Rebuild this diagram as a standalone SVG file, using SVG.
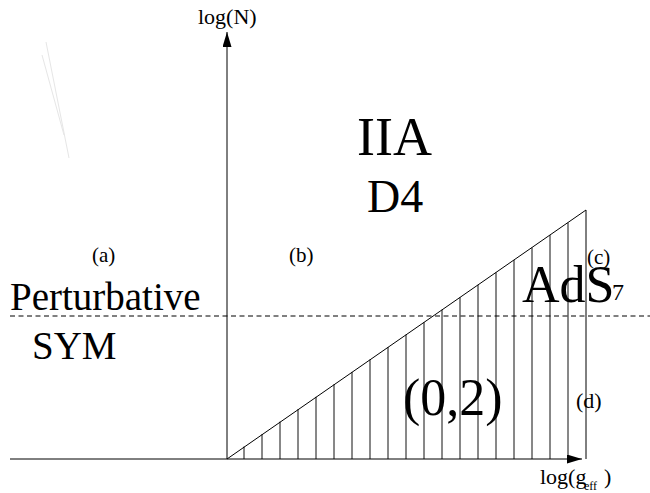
<svg xmlns="http://www.w3.org/2000/svg" width="650" height="493" viewBox="0 0 650 493">
<style>
text{font-family:"Liberation Serif",Tinos,"Times New Roman","DejaVu Serif",serif;fill:#000}
.ln{stroke:#000;stroke-width:1;fill:none}
.h{stroke:#111;stroke-width:1}
</style>
<defs>
<marker id="arr" markerWidth="16" markerHeight="10" refX="15" refY="4.5" orient="auto" markerUnits="userSpaceOnUse">
<path d="M0,0 L15,4.5 L0,9 Z" fill="#000"/>
</marker>
</defs>
<rect width="650" height="493" fill="#fff"/>
<g id="faint" stroke="#e6e6e6" stroke-width="1">
<line x1="46" y1="42" x2="69" y2="158"/>
<line x1="42" y1="55" x2="64" y2="135"/>
</g>
<g id="region-hatch" class="h">
<line x1="244" y1="459" x2="244" y2="446.5"/>
<line x1="262" y1="459" x2="262" y2="434.1"/>
<line x1="280" y1="459" x2="280" y2="421.6"/>
<line x1="298" y1="459" x2="298" y2="409.2"/>
<line x1="316" y1="459" x2="316" y2="396.8"/>
<line x1="334" y1="459" x2="334" y2="384.3"/>
<line x1="352" y1="459" x2="352" y2="371.9"/>
<line x1="370" y1="459" x2="370" y2="359.5"/>
<line x1="388" y1="459" x2="388" y2="347.0"/>
<line x1="406" y1="459" x2="406" y2="334.6"/>
<line x1="424" y1="459" x2="424" y2="322.2"/>
<line x1="442" y1="459" x2="442" y2="309.7"/>
<line x1="460" y1="459" x2="460" y2="297.3"/>
<line x1="478" y1="459" x2="478" y2="284.9"/>
<line x1="496" y1="459" x2="496" y2="272.4"/>
<line x1="514" y1="459" x2="514" y2="260.0"/>
<line x1="532" y1="459" x2="532" y2="247.6"/>
<line x1="550" y1="459" x2="550" y2="235.1"/>
<line x1="568" y1="459" x2="568" y2="222.7"/>
</g>
<g id="connectors">
<line id="x-axis" class="ln" x1="10" y1="459" x2="582" y2="459" stroke-width="1.3" marker-end="url(#arr)"/>
<line id="y-axis" class="ln" x1="227" y1="459" x2="227" y2="32" marker-end="url(#arr)"/>
<line id="diagonal" class="ln" x1="227" y1="459" x2="586" y2="210"/>
<line id="right-edge" class="ln" x1="586" y1="210" x2="586" y2="459"/>
<line id="dashed" class="ln" x1="10" y1="316" x2="650" y2="316" stroke="#333" stroke-dasharray="5,3.5"/>
</g>
<g id="label-logN"><text x="198" y="24" font-size="22">log(N)</text></g>
<g id="label-logg"><text x="540" y="484" font-size="22">log(g</text><text x="584" y="490" font-size="12">eff</text><text x="604" y="484" font-size="22">)</text></g>
<g id="region-a"><text x="92" y="262" font-size="21">(a)</text></g>
<g id="region-b"><text x="289" y="262" font-size="21">(b)</text></g>
<g id="region-c"><text x="587" y="264" font-size="21">(c)</text></g>
<g id="region-d"><text x="576" y="408" font-size="22">(d)</text></g>
<g id="label-pert"><text x="10" y="310" font-size="39">Perturbative</text><text x="32" y="359" font-size="39">SYM</text></g>
<g id="label-iia"><text x="357" y="155" font-size="54">IIA</text><text x="367" y="212" font-size="46">D4</text></g>
<g id="label-ads"><text x="522" y="302" font-size="52">AdS</text><text x="612" y="300" font-size="24">7</text></g>
<g id="label-02"><text x="403" y="415" font-size="52">(0,2)</text></g>
</svg>
